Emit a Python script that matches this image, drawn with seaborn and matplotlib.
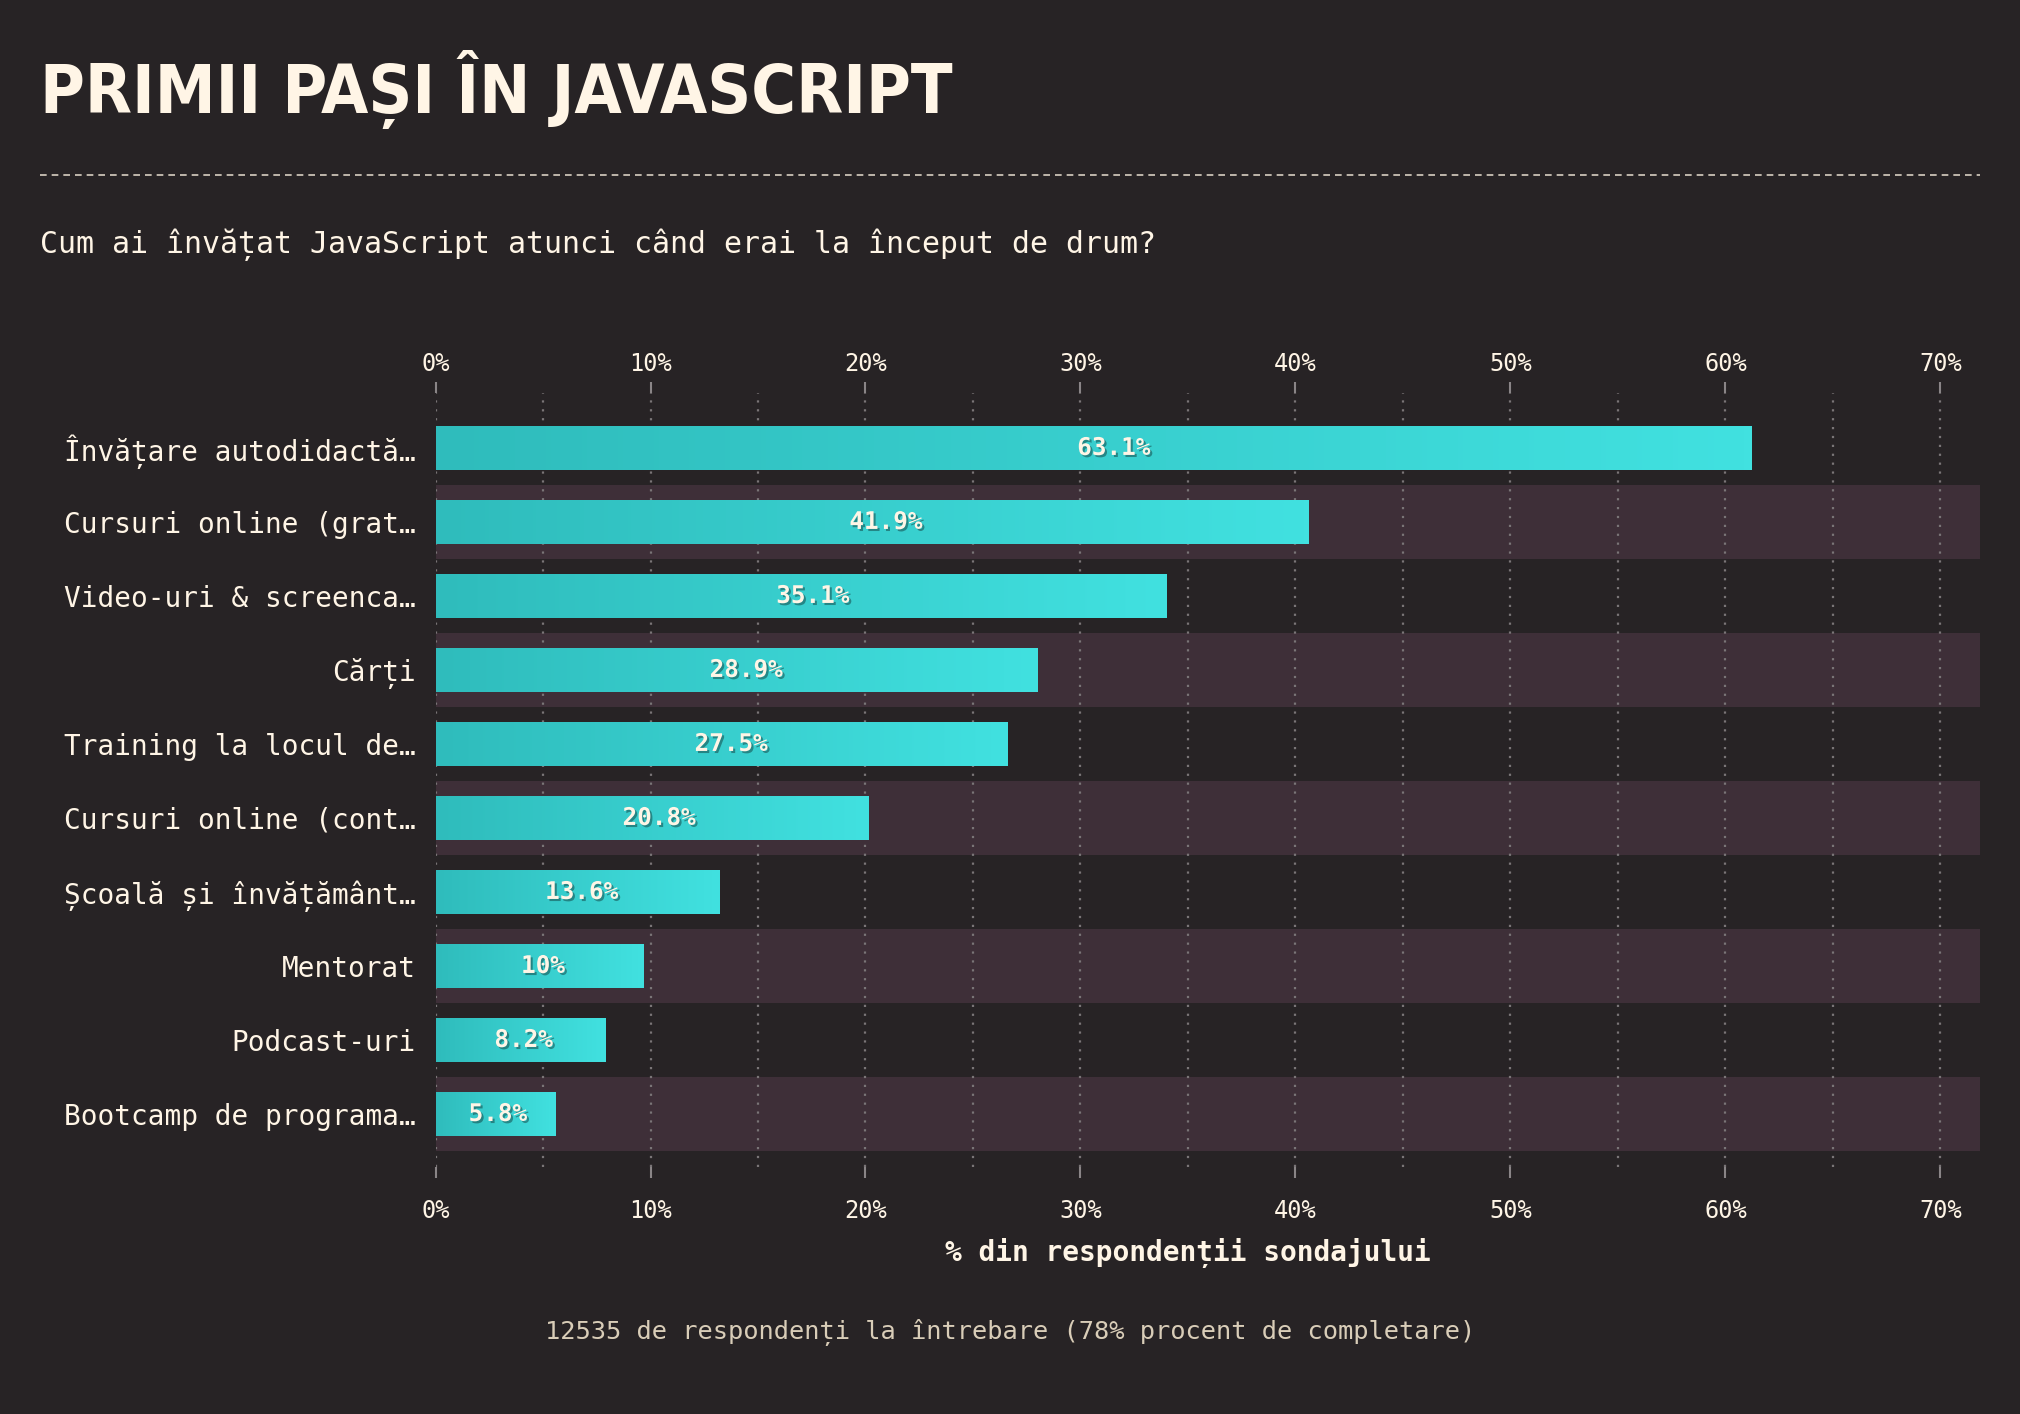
import numpy as np
import pandas as pd
import seaborn as sns
import matplotlib.pyplot as plt
import matplotlib.patheffects as pe
from matplotlib.colors import LinearSegmentedColormap
from matplotlib.lines import Line2D
from matplotlib.transforms import blended_transform_factory

# date
categorii = ["Învățare autodidactă…", "Cursuri online (grat…", "Video-uri & screenca…",
             "Cărți", "Training la locul de…", "Cursuri online (cont…",
             "Școală și învățământ…", "Mentorat", "Podcast-uri", "Bootcamp de programa…"]
lungimi = [61.2, 40.6, 34.0, 28.0, 26.6, 20.1, 13.2, 9.65, 7.9, 5.57]
etichete = [63.1, 41.9, 35.1, 28.9, 27.5, 20.8, 13.6, 10, 8.2, 5.8]
ticks_x = [0, 10, 20, 30, 40, 50, 60, 70]

FUNDAL = "#272325"
BANDA = "#3e2f38"
CREM = "#fff5e6"
GRI = "#7a7577"
MONO = ["DejaVu Sans Mono", "DejaVu Sans"]

sns.set_theme(style="dark")
plt.rcParams["font.family"] = MONO

df = pd.DataFrame({"categorie": categorii, "valoare": lungimi})

fig = plt.figure(figsize=(20.2, 14.14), dpi=100, facecolor=FUNDAL)
ax = fig.add_axes([0.2156, 0.1747, 0.9802 - 0.2156, 0.5474])
ax.set_facecolor(FUNDAL)

# benzi alternante
for i in range(1, len(categorii), 2):
    ax.axhspan(i - 0.5, i + 0.5, color=BANDA, zorder=0, lw=0)

sns.barplot(data=df, x="valoare", y="categorie", orient="h", color="#38cfcf",
            width=0.6, ax=ax, zorder=2, saturation=1, linewidth=0,
            edgecolor="none")

# gradient pe fiecare bara
gradient = LinearSegmentedColormap.from_list("g", ["#2fbcbc", "#41e1e0"])
grad = np.linspace(0, 1, 256).reshape(1, -1)
for p in ax.containers[0]:
    p.set_linewidth(0)
    x0, y0 = p.get_x(), p.get_y()
    w, h = p.get_width(), p.get_height()
    im = ax.imshow(grad, cmap=gradient, extent=(x0, x0 + w, y0 + h, y0),
                   aspect="auto", zorder=3, interpolation="bicubic")
    im.set_clip_path(p)

xmax = 71.84
ax.set_xlim(0, xmax)
ax.set_ylim(9.716, -0.743)

# grila punctata la fiecare 5%
for v in np.arange(0, 71, 5):
    ax.axvline(v, color=GRI, lw=1.6, ls=(0, (1, 3)), zorder=1)

for s in ax.spines.values():
    s.set_visible(False)

etich_x = [f"{t}%" for t in ticks_x]
ax.set_xticks(ticks_x)
ax.set_xticklabels(etich_x)
ax.tick_params(axis="x", bottom=True, top=False, labelbottom=True, length=8,
               width=1.5, color="#8a8587", labelcolor=CREM, labelsize=17,
               direction="out", pad=15)

sus = ax.secondary_xaxis("top")
sus.set_xticks(ticks_x)
sus.set_xticklabels(etich_x)
sus.tick_params(axis="x", length=8, width=1.5, color="#8a8587",
                labelcolor=CREM, labelsize=17, direction="out", pad=4)
for s in sus.spines.values():
    s.set_visible(False)
for lbl in sus.get_xticklabels():
    lbl.set_family(MONO)

ax.tick_params(axis="y", length=0, pad=14, labelsize=20, labelcolor=CREM)
ax.set_xlabel("")
ax.set_ylabel("")
ax.grid(False)

# etichete valori pe bare
for i, e in enumerate(etichete):
    ax.text(e / 2, i, f"{e:g}%", ha="center", va="center", fontsize=17.5,
            fontweight="bold", color=CREM, zorder=5, family=MONO,
            path_effects=[pe.withSimplePatchShadow(offset=(1.5, -1.5),
                                                   shadow_rgbFace="black", alpha=0.35)])

# titlul axei
tr = blended_transform_factory(ax.transData, fig.transFigure)
ax.text(35, 1 - 1253 / 1414, "% din respondenții sondajului", transform=tr,
        ha="center", va="center", fontsize=20, fontweight="bold", color=CREM,
        family=MONO)

# titlu, subtitlu, linie, nota
fig.text(40 / 2020, 1 - 113 / 1414, "PRIMII PAȘI ÎN JAVASCRIPT",
         fontsize=49, fontweight="bold", fontstretch="condensed", color=CREM,
         ha="left", va="baseline", family=["DejaVu Sans"])
fig.add_artist(Line2D([40 / 2020, 1980 / 2020], [1 - 175 / 1414] * 2,
                      transform=fig.transFigure, color="#d8cfc2", lw=1.2,
                      ls=(0, (4, 3))))
fig.text(40 / 2020, 1 - 245 / 1414,
         "Cum ai învățat JavaScript atunci când erai la început de drum?",
         fontsize=21.5, color=CREM, ha="left", va="center", family=MONO)
fig.text(0.5, 1 - 1333 / 1414,
         "12535 de respondenți la întrebare (78% procent de completare)",
         fontsize=18.3, color="#d9cdb8", ha="center", va="center", family=MONO)

fig.savefig("out.png", dpi=100, facecolor=FUNDAL)
